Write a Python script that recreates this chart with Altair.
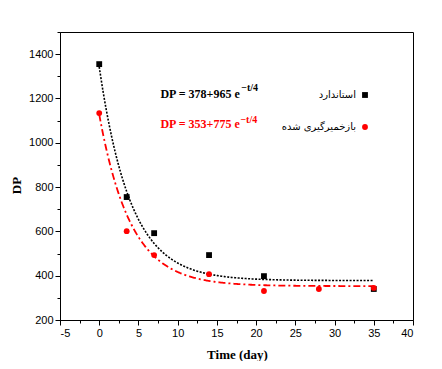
import altair as alt
import pandas as pd

# ---------------- data ----------------
series_names = ["استاندارد", "بازخمیرگیری شده"]
series_colors = ["#000000", "#ff0000"]
series_shapes = ["square", "circle"]

days_std = [0, 3.5, 7, 14, 21, 35]
dp_std = [1355, 755, 592, 493, 398, 340]

days_rec = [0, 3.5, 7, 14, 21, 28, 35]
dp_rec = [1134, 601, 493, 407, 331, 340, 345]

# fitted curves shown on the chart: DP = a + b * exp(-t / tau)
fit_a = [378, 353]
fit_b = [965, 775]
fit_tau = [4, 4]
fit_t_end = 35

eq_main = ["DP = 378+965 e", "DP = 353+775 e"]
eq_exp = ["−t/4", "−t/4"]
eq_main_pos = [(7.8, 1204), (7.8, 1068)]
eq_exp_pos = [(18.1, 1235), (18.0, 1087)]

x_ticks = [-5, -2.5, 0, 2.5, 5, 7.5, 10, 12.5, 15, 17.5, 20, 22.5, 25, 27.5, 30, 32.5, 35, 37.5, 40]
y_ticks = [200, 300, 400, 500, 600, 700, 800, 900, 1000, 1100, 1200, 1300, 1400, 1500]

# ---------------- tables ----------------
pts = pd.DataFrame(
    {"day": days_std + days_rec,
     "dp": dp_std + dp_rec,
     "series": [series_names[0]] * len(days_std) + [series_names[1]] * len(days_rec)}
)

x_axis = alt.Axis(
    title="Time (day)", values=x_ticks,
    labelExpr="datum.value % 5 == 0 ? '' + datum.value : ''",
    tickSize={"condition": {"test": "datum.value % 5 != 0", "value": 3}, "value": 5},
    grid=False, domainColor="black", tickColor="black", labelColor="black",
    labelFont="Liberation Sans", labelFontSize=11, labelPadding=2,
    titleFont="Liberation Serif", titleFontWeight="bold", titleFontSize=13,
    titleColor="black", titleX=177, titleY=34, titleBaseline="middle",
)
y_axis = alt.Axis(
    title="DP", values=y_ticks,
    labelExpr="datum.value % 200 == 0 ? '' + datum.value : ''",
    tickSize={"condition": {"test": "datum.value % 200 != 0", "value": 3}, "value": 5},
    grid=False, domainColor="black", tickColor="black", labelColor="black",
    labelFont="Liberation Sans", labelFontSize=11, labelPadding=2,
    titleFont="Liberation Serif", titleFontWeight="bold", titleFontSize=13,
    titleColor="black", titleX=-44, titleY=153, titleBaseline="middle",
)

x_enc = alt.X("day:Q", scale=alt.Scale(domain=[-5, 40], nice=False, zero=False), axis=x_axis)
y_enc = alt.Y("dp:Q", scale=alt.Scale(domain=[200, 1500], nice=False, zero=False), axis=y_axis)

curve_dash = [[2, 1.5], [7, 3, 2, 3]]
curve_width = [1.6, 1.8]

layers = []
for i in range(2):
    c = (
        alt.Chart(alt.sequence(0, fit_t_end + 0.05, 0.1, as_="t"))
        .transform_calculate(
            day="datum.t",
            dp=f"{fit_a[i]} + {fit_b[i]} * exp(-datum.t / {fit_tau[i]})",
        )
        .mark_line(color=series_colors[i], strokeDash=curve_dash[i], strokeWidth=curve_width[i])
        .encode(x=x_enc, y=y_enc)
    )
    layers.append(c)

points = (
    alt.Chart(pts)
    .mark_point(filled=True, size=34, opacity=1)
    .encode(
        x=x_enc, y=y_enc,
        color=alt.Color("series:N", scale=alt.Scale(domain=series_names, range=series_colors),
                        legend=alt.Legend(title=None, orient="none", legendX=300, legendY=58,
                                          labelFont="DejaVu Sans", labelFontSize=10,
                                          labelColor="black", labelAlign="right",
                                          labelOffset={"expr": "-14"}, rowPadding=22, symbolSize=34,
                                          padding=0)),
        shape=alt.Shape("series:N", scale=alt.Scale(domain=series_names, range=series_shapes)),
    )
)
layers.append(points)

for i in range(2):
    main_df = pd.DataFrame({"day": [eq_main_pos[i][0]], "dp": [eq_main_pos[i][1]], "txt": [eq_main[i]]})
    exp_df = pd.DataFrame({"day": [eq_exp_pos[i][0]], "dp": [eq_exp_pos[i][1]], "txt": [eq_exp[i]]})
    layers.append(
        alt.Chart(main_df).mark_text(align="left", baseline="alphabetic", font="Liberation Serif",
                                     fontWeight="bold", fontSize=12, color=series_colors[i])
        .encode(x=x_enc, y=y_enc, text="txt:N")
    )
    layers.append(
        alt.Chart(exp_df).mark_text(align="left", baseline="alphabetic", font="Liberation Serif",
                                    fontWeight="bold", fontSize=10, color=series_colors[i])
        .encode(x=x_enc, y=y_enc, text="txt:N")
    )

chart = (
    alt.layer(*layers)
    .properties(
        width=353, height=288,
        padding={"left": 52, "top": 24, "right": 21, "bottom": 41},
        autosize=alt.AutoSizeParams(type="none"),
        background="white",
    )
    .configure_view(stroke="black", strokeWidth=1)
)

chart.save("out.html", embed_options={"renderer": "svg", "actions": False})
